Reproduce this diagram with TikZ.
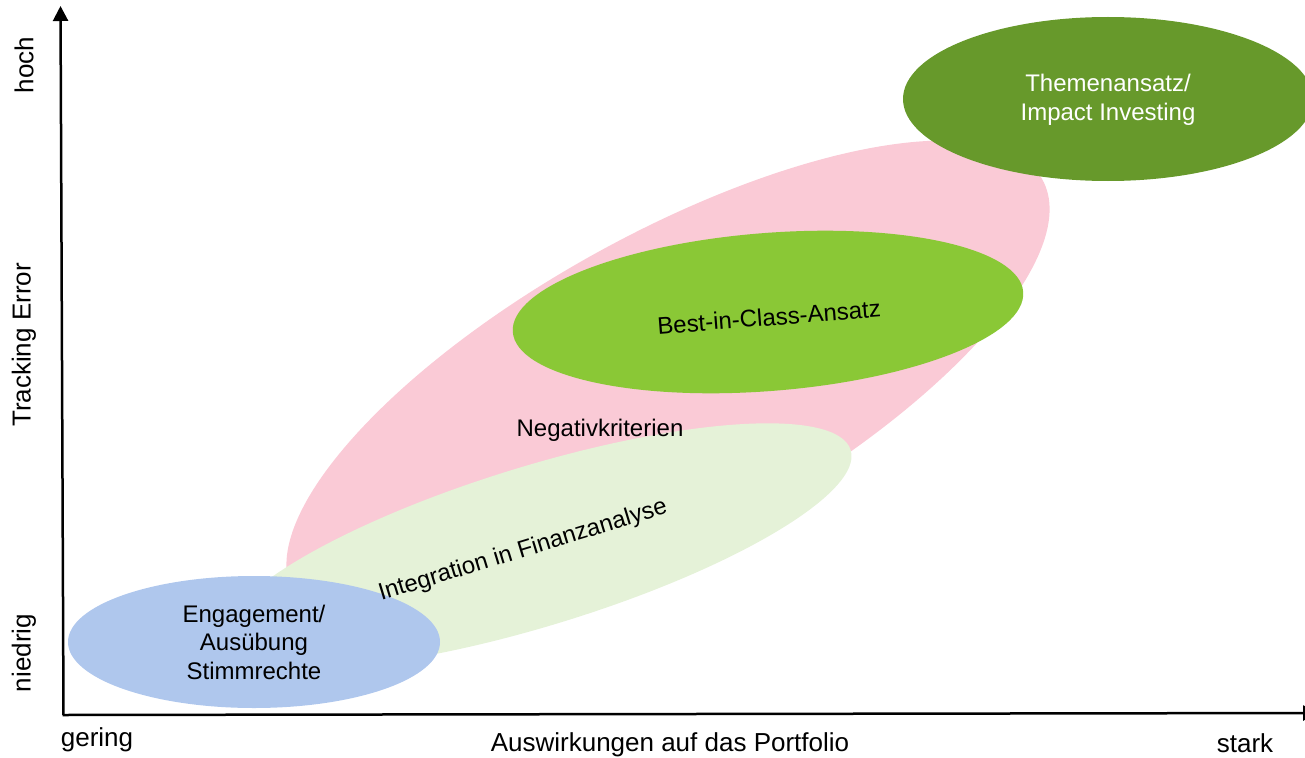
\documentclass[tikz,border=0pt]{standalone}
\usepackage{fontspec}
\setmainfont{Liberation Sans}
\usetikzlibrary{shapes.geometric,arrows.meta}
\definecolor{pinkfill}{RGB}{250,202,214}
\definecolor{lightgreen}{RGB}{229,242,216}
\definecolor{midgreen}{RGB}{138,200,54}
\definecolor{darkgreen}{RGB}{103,153,43}
\definecolor{bluefill}{RGB}{175,199,237}
\tikzset{
  blob/.style={ellipse, draw=none, inner sep=0pt, align=center,
    font=\fontsize{24}{28.5}\selectfont},
  axislabel/.style={inner sep=0pt, font=\fontsize{26}{30}\selectfont},
  blobtext/.style={inner sep=0pt, align=center, font=\fontsize{24}{28.5}\selectfont},
  axis/.style={line width=2.5pt, -{Triangle[length=15pt,width=15pt]}}
}
\begin{document}
\begin{tikzpicture}[x=1pt,y=-1pt]
\path[use as bounding box] (0,0) rectangle (1305,757);
\clip (0,0) rectangle (1305,757);
% ellipses
\node[blob, fill=pinkfill, minimum width=856pt, minimum height=304pt, rotate=29] (neg) at (668,387) {};
\node[blob, fill=lightgreen, minimum width=656pt, minimum height=160pt, rotate=17] (int) at (537,546) {};
\node[blob, fill=midgreen, minimum width=512pt, minimum height=158pt, rotate=4.5] (bic) at (768,312) {};
\node[blob, fill=darkgreen, minimum width=410pt, minimum height=164pt] (them) at (1108,99) {};
\node[blob, fill=bluefill, minimum width=372pt, minimum height=132pt] (eng) at (254,642) {Engagement/\\Ausübung\\Stimmrechte};
% texts
\node[blobtext, rotate=4.5] (bictext) at (769,317) {Best-in-Class-Ansatz};
\node[blobtext, text=white] (themtext) at (1108,100) {Themenansatz/\\Impact Investing};
\node[blobtext] (negtext) at (600,430) {Negativkriterien};
\node[blobtext, rotate=17] (inttext) at (523,551) {Integration in Finanzanalyse};
% axes
\coordinate (O) at (63.5,715);
\coordinate (ytop) at (60.5,6);
\coordinate (xstart) at (62.5,715);
\coordinate (xend) at (1318,713);
\draw[axis] (O) -- (ytop);
\draw[axis] (xstart) -- (xend);
% axis labels
\node[axislabel, rotate=90] (hoch) at (24,65) {hoch};
\node[axislabel, rotate=90] (te) at (24,345) {Tracking Error};
\node[axislabel, rotate=90] (niedrig) at (24,653) {niedrig};
\node[axislabel] (gering) at (97,740) {gering};
\node[axislabel] (ausw) at (670,745) {Auswirkungen auf das Portfolio};
\node[axislabel] (stark) at (1245,743) {stark};
\end{tikzpicture}
\end{document}
